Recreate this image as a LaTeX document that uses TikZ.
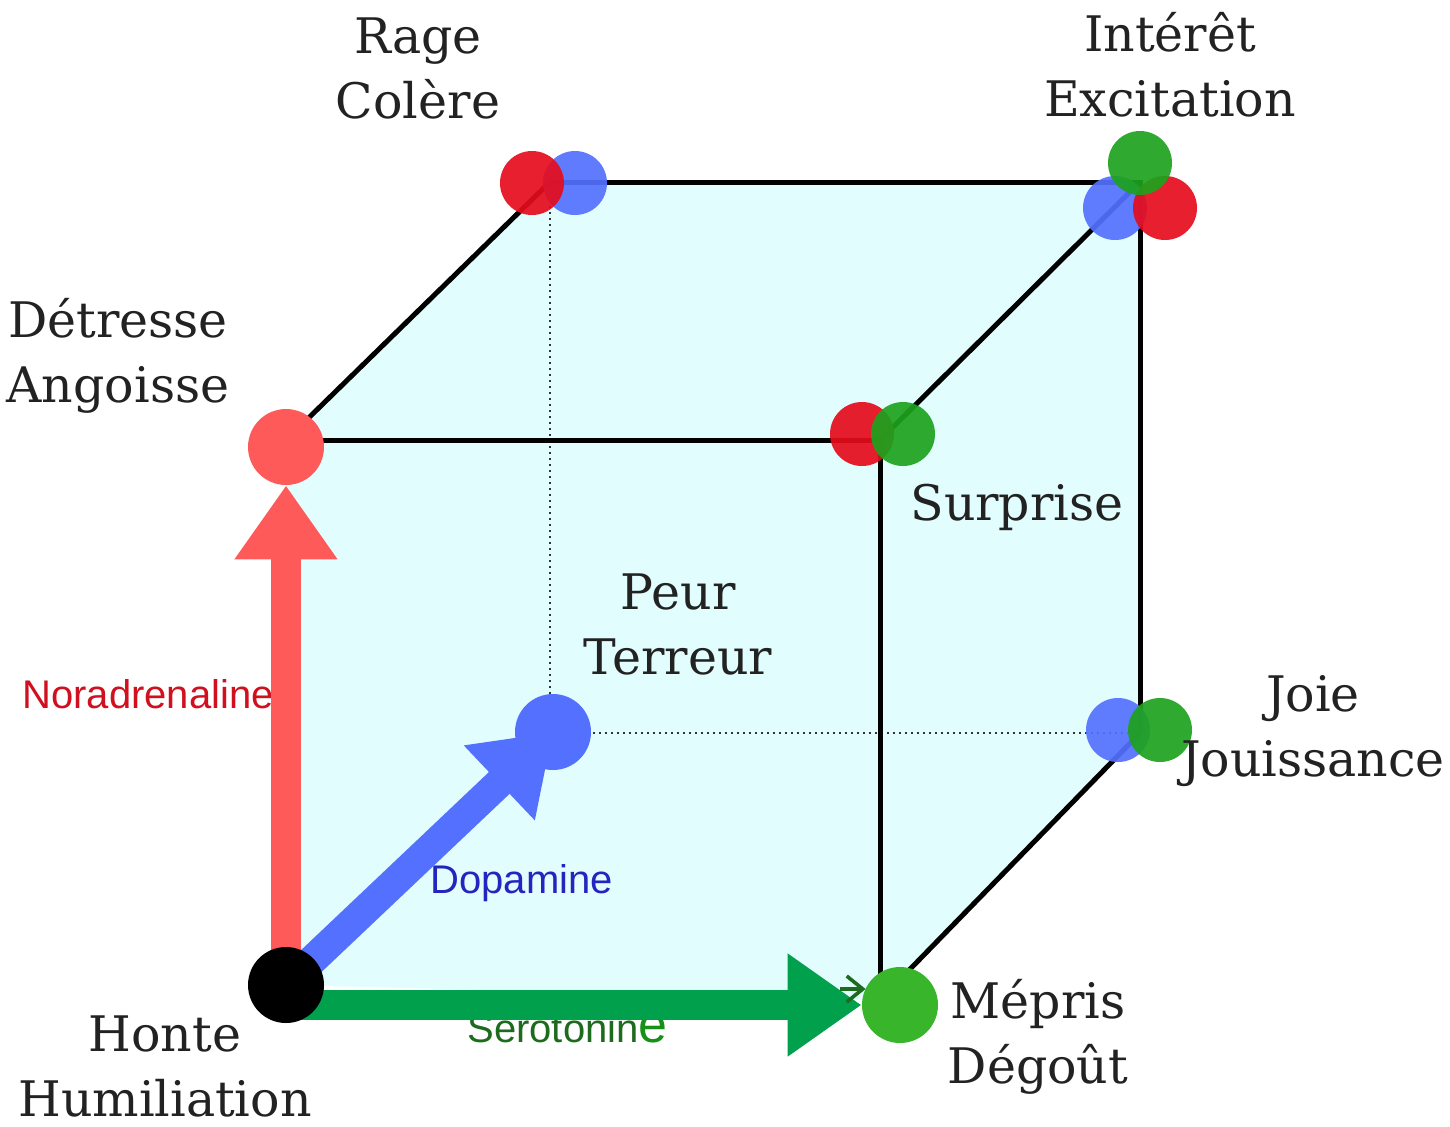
\documentclass[tikz,border=0pt]{standalone}
\usepackage{fontspec}
\setmainfont{DejaVu Serif}
\newfontfamily\chemfont{Liberation Sans}
\usetikzlibrary{arrows.meta,positioning}
\definecolor{ink}{HTML}{000000}
\definecolor{words}{HTML}{222222}
\definecolor{cubefill}{HTML}{E2FDFD}
\definecolor{noraRed}{HTML}{FF5A5A}
\definecolor{hotRed}{HTML}{E60C1C}
\definecolor{dopaBlue}{HTML}{5470FF}
\definecolor{seroGreen}{HTML}{1DA21D}
\definecolor{lightGreen}{HTML}{38B52B}
\definecolor{arrowGreen}{HTML}{00A04C}
\definecolor{noraText}{HTML}{D0101E}
\definecolor{dopaText}{HTML}{2424C0}
\definecolor{seroText}{HTML}{1D6B1D}
\definecolor{seroE}{HTML}{169016}
\pgfdeclarelayer{back}
\pgfsetlayers{back,main}

\begin{document}
\begin{tikzpicture}[
  x=0.5pt, y=-0.5pt,
  emo/.style={align=center, font=\fontsize{24.5}{32.5}\selectfont, text=words},
  chem/.style={anchor=base west, inner sep=0pt, font=\chemfont\fontsize{20}{24}\selectfont},
  dot/.style={circle, inner sep=0pt, minimum size=32pt, fill opacity=0.92},
  bigdot/.style={circle, inner sep=0pt, minimum size=38pt},
  edge/.style={line width=2.5pt, ink},
  hidden/.style={line width=1pt, dotted, black!80},
  fat/.style={line width=15pt, -{Triangle[length=37pt,width=49pt]}}
]
  \useasboundingbox (0,0) rectangle (1450,1126);
  % cube corners
  \coordinate (flb) at (286,985);
  \coordinate (flt) at (286,440);
  \coordinate (frt) at (880,440);
  \coordinate (frb) at (880,1000);
  \coordinate (blt) at (550,182);
  \coordinate (brt) at (1140,182);
  \coordinate (brb) at (1140,733);
  \coordinate (blb) at (550,733);

  % corner dots
  \node[bigdot, fill=ink] (honte) at (flb) {};
  \node[bigdot, fill=noraRed] (detresse) at (286,447) {};
  \node[bigdot, fill=dopaBlue] (peur) at (553,732) {};
  \node[bigdot, fill=lightGreen] (mepris) at (900,1005) {};
  \node[dot, fill=dopaBlue] (rage-b) at (575,183) {};
  \node[dot, fill=hotRed] (rage-r) at (532,183) {};
  \node[dot, fill=dopaBlue] (interet-b) at (1115,208) {};
  \node[dot, fill=hotRed] (interet-r) at (1165,208) {};
  \node[dot, fill=seroGreen] (interet-g) at (1140,163) {};
  \node[dot, fill=hotRed] (surprise-r) at (862,434) {};
  \node[dot, fill=seroGreen] (surprise-g) at (903,434) {};
  \node[dot, fill=dopaBlue] (joie-b) at (1118,730) {};
  \node[dot, fill=seroGreen] (joie-g) at (1160,730) {};

  \begin{pgfonlayer}{back}
    \fill[cubefill] (flb) -- (flt) -- (blt) -- (brt) -- (brb) -- (frb) -- cycle;
    \draw[hidden] (blt) -- (blb) -- (brb);
    \draw[hidden] (flb) -- (blb);
    \draw[edge] (flt) -- (frt) -- (frb);
    \draw[edge] (blt) -- (brt) -- (brb);
    \draw[edge] (flt) -- (blt);
    \draw[edge] (frt) -- (brt);
    \draw[edge] (frb) -- (brb);

    \node[chem, text=noraText] (nora) at (22,708) {Noradrenaline};
    \node[chem, text=dopaText] (dopa) at (430,893) {Dopamine};
    \node[chem, text=seroText] (sero) at (467,1042) {Serotonin{\color{seroE}\fontsize{26}{30}\selectfont e}};

    \draw[fat, noraRed] (honte.center) -- (detresse.south);
    \draw[fat, dopaBlue] (honte.center) -- (peur.center);
    \draw[fat, arrowGreen] (honte.center |- mepris.west) -- (mepris.west);
    \draw[line width=1.8pt, seroText, -{Straight Barb[length=8pt,width=13pt]}]
      ([shift={(-22,-16)}]mepris.west) -- ([shift={(4,-16)}]mepris.west);
  \end{pgfonlayer}

  % emotions
  \node[emo] (l-rage) at (418,68) {Rage\\Colère};
  \node[emo] (l-interet) at (1170,65) {Intérêt\\Excitation};
  \node[emo] (l-detresse) at (118,356) {Détresse\\Angoisse};
  \node[emo] (l-surprise) at (1017,507) {Surprise};
  \node[emo] (l-peur) at (678,624) {Peur\\Terreur};
  \node[emo] (l-joie) at (1313,731) {Joie\\Jouissance};
  \node[emo] (l-mepris) at (1038,1037) {Mépris\\Dégoût};
  \node[emo] (l-honte) at (165,1066) {Honte\\Humiliation};
\end{tikzpicture}
\end{document}
